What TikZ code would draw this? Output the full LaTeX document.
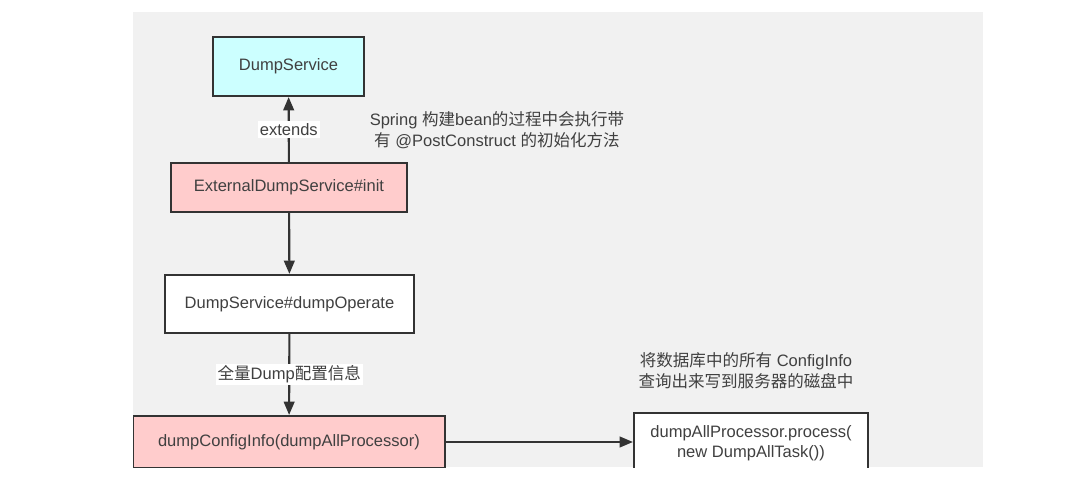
\documentclass[tikz,border=0pt]{standalone}
\usepackage{fontspec}
\setmainfont{Liberation Sans}
\newfontfamily\cjk{Noto Sans CJK SC}
\usetikzlibrary{arrows.meta}
\definecolor{bggray}{HTML}{F1F1F1}
\definecolor{linec}{HTML}{333333}
\definecolor{txtc}{HTML}{404040}
\definecolor{cyanfill}{HTML}{CCFFFF}
\definecolor{pinkfill}{HTML}{FFCCCC}
\tikzset{
  box/.style={draw=linec, line width=1.6pt, text=txtc, font=\fontsize{12.4pt}{15pt}\selectfont, inner sep=0pt, align=center},
  conn/.style={draw=linec, line width=1.6pt, -{Triangle[length=10pt,width=8pt]}},
  elabel/.style={fill=white, text=txtc, font=\fontsize{12.4pt}{15pt}\selectfont, inner sep=1.5pt},
  note/.style={text=txtc, font=\fontsize{12.4pt}{16pt}\selectfont, align=center, inner sep=0pt}
}
\begin{document}
\begin{tikzpicture}[x=0.75pt,y=-0.75pt]
\useasboundingbox (0,0) rectangle (1080,491);
\fill[white] (0,0) rectangle (1080,491);
\fill[bggray] (133,12) rectangle (983,467);
\begin{scope}
\clip (133,12) rectangle (983,467);
\node[box, fill=cyanfill, minimum width={151*0.75pt}, minimum height={59*0.75pt}] (ds) at (288.5,66.5) {DumpService};
\node[box, fill=pinkfill, minimum width={236*0.75pt}, minimum height={49*0.75pt}] (init) at (289,187.5) {ExternalDumpService\#init};
\node[box, fill=white, minimum width={249*0.75pt}, minimum height={58*0.75pt}] (op) at (289.5,304) {DumpService\#dumpOperate};
\node[box, fill=pinkfill, minimum width={312*0.75pt}, minimum height={52*0.75pt}] (dci) at (289,442) {dumpConfigInfo(dumpAllProcessor)};
\node[box, fill=white, minimum width={234*0.75pt}, minimum height={60*0.75pt}] (proc) at (751,443) {dumpAllProcessor.process(\\new DumpAllTask())};
\draw[conn] (init) -- node[elabel] {extends} (ds);
\draw[conn] (init) -- (op);
\draw[conn] (op) -- node[elabel] {{\cjk 全量}Dump{\cjk 配置信息}} (dci);
\draw[conn] (dci) -- (dci -| proc.west);
\node[note] (n1) at (497,130) {Spring {\cjk 构建}bean{\cjk 的过程中会执行带}\\{\cjk 有} @PostConstruct {\cjk 的初始化方法}};
\node[note] (n2) at (746,371) {{\cjk 将数据库中的所有} ConfigInfo\\{\cjk 查询出来写到服务器的磁盘中}};
\end{scope}
\end{tikzpicture}
\end{document}
